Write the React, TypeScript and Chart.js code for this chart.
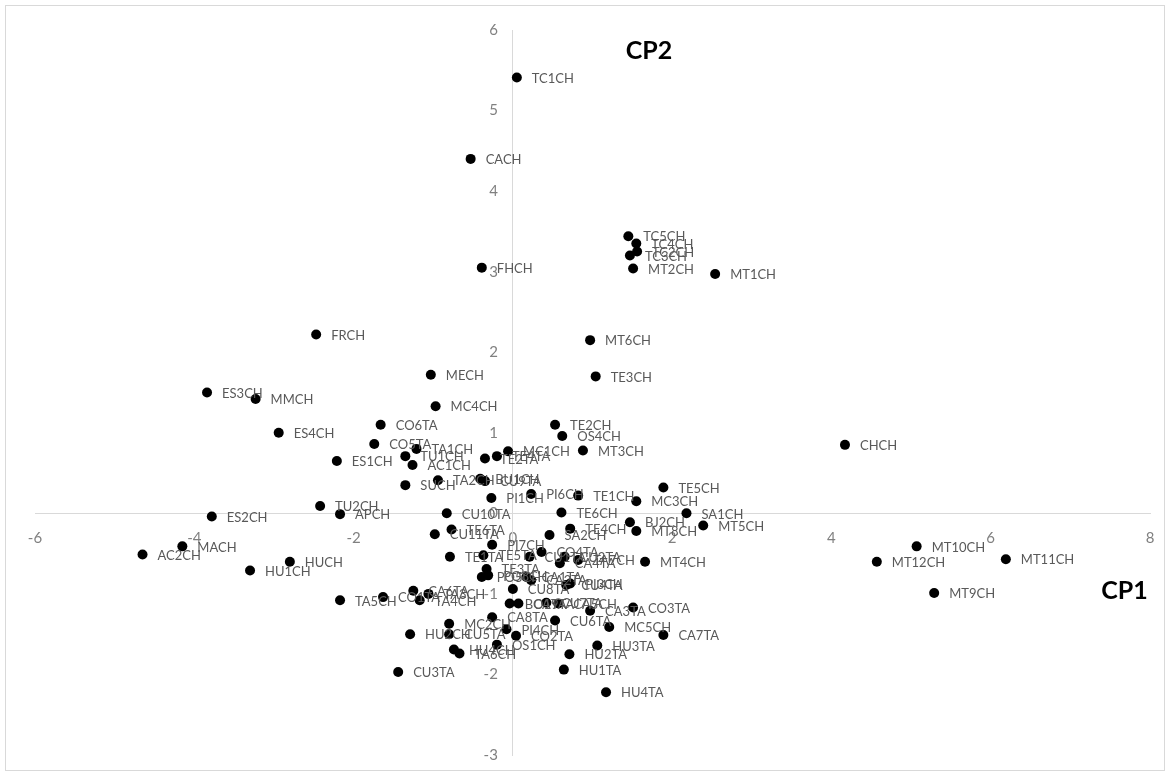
import React, { useEffect, useRef } from "react";
import { Chart, registerables } from "chart.js";

Chart.register(...registerables);

const pointLabels = [
  "TC1CH", "CACH", "TC5CH", "TC4CH", "TC2CH", "TC3CH", "MT2CH", "MT1CH", "FHCH", "FRCH",
  "MECH", "ES3CH", "MMCH", "MC4CH", "CO6TA", "ES4CH", "CO5TA", "TA1CH", "TU1CH", "ES1CH",
  "AC1CH", "SUCH", "TA2CH", "BU1CH", "CU9TA", "TE2TA", "TE4TA", "MC1CH", "PI1CH", "TU2CH",
  "APCH", "ES2CH", "MACH", "AC2CH", "HU1CH", "HUCH", "TA5CH", "CO1TA", "CA6TA", "TA3CH",
  "TA4CH", "CU10TA", "CU11TA", "TE6TA", "PI7CH", "TE1TA", "TE5TA", "TE3TA", "PO5CH", "PO8CH",
  "CU8TA", "CU1TA", "CO4TA", "CA4TA", "CU2TA", "TA7CH", "CA1TA", "CA2TA", "CU4TA", "PI3CH",
  "MT4CH", "BO1TA", "CA9TA", "CU7TA", "CA5CH", "CA3TA", "CO3TA", "CU6TA", "MC5CH", "CA7TA",
  "HU3TA", "HU2TA", "HU1TA", "HU4TA", "CA8TA", "MC2CH", "CU5TA", "HU2CH", "HU4CH", "TA6CH",
  "CU3TA", "PI4CH", "CO2TA", "OS1CH", "MT6CH", "TE3CH", "TE2CH", "OS4CH", "MT3CH", "TE5CH",
  "MC3CH", "TE1CH", "PI6CH", "TE6CH", "SA1CH", "MT5CH", "BJ2CH", "MT8CH", "TE4CH", "SA2CH",
  "CHCH", "MT10CH", "MT12CH", "MT11CH", "MT9CH",
];

const cp1Values = [
  0.05, -0.53, 1.45, 1.55, 1.56, 1.47, 1.51, 2.54, -0.39, -2.47,
  -1.03, -3.84, -3.23, -0.97, -1.66, -2.94, -1.74, -1.21, -1.35, -2.21,
  -1.26, -1.35, -0.94, -0.41, -0.35, -0.35, -0.2, -0.06, -0.27, -2.42,
  -2.17, -3.78, -4.15, -4.65, -3.3, -2.8, -2.17, -1.63, -1.25, -1.06,
  -1.17, -0.83, -0.98, -0.77, -0.26, -0.79, -0.37, -0.33, -0.39, -0.31,
  0.0, 0.21, 0.36, 0.59, 0.65, 0.82, 0.17, 0.23, 0.67, 0.72,
  1.66, -0.04, 0.07, 0.42, 0.57, 0.97, 1.51, 0.53, 1.21, 1.89,
  1.06, 0.71, 0.64, 1.17, -0.26, -0.8, -0.8, -1.29, -0.74, -0.67,
  -1.44, -0.08, 0.04, -0.2, 0.97, 1.04, 0.53, 0.62, 0.88, 1.89,
  1.55, 0.82, 0.23, 0.61, 2.18, 2.39, 1.47, 1.55, 0.72, 0.46,
  4.17, 5.07, 4.57, 6.19, 5.29,
];

const cp2Values = [
  5.41, 4.4, 3.44, 3.35, 3.25, 3.2, 3.04, 2.97, 3.05, 2.22,
  1.72, 1.5, 1.42, 1.33, 1.1, 1.0, 0.86, 0.8, 0.71, 0.65,
  0.6, 0.35, 0.41, 0.43, 0.4, 0.68, 0.71, 0.77, 0.19, 0.09,
  -0.01, -0.04, -0.41, -0.51, -0.71, -0.6, -1.08, -1.04, -0.96, -1.0,
  -1.08, 0.0, -0.26, -0.2, -0.39, -0.54, -0.52, -0.69, -0.79, -0.77,
  -0.94, -0.54, -0.48, -0.62, -0.54, -0.58, -0.79, -0.83, -0.89, -0.87,
  -0.6, -1.12, -1.12, -1.11, -1.12, -1.21, -1.17, -1.33, -1.41, -1.51,
  -1.64, -1.75, -1.94, -2.22, -1.29, -1.37, -1.5, -1.5, -1.69, -1.74,
  -1.97, -1.44, -1.52, -1.63, 2.15, 1.7, 1.1, 0.96, 0.78, 0.32,
  0.15, 0.22, 0.24, 0.01, 0.0, -0.15, -0.11, -0.22, -0.19, -0.27,
  0.85, -0.41, -0.6, -0.57, -0.99,
];

const xAxisTitle = "CP1";
const yAxisTitle = "CP2";

const labelPlugin = {
  id: "pointLabelText",
  afterDatasetsDraw(chart: any) {
    const ctx = chart.ctx;
    const meta = chart.getDatasetMeta(0);
    ctx.save();
    ctx.font = "13px Lato";
    ctx.fillStyle = "#595959";
    ctx.textBaseline = "middle";
    ctx.textAlign = "left";
    meta.data.forEach((el: any, i: number) => {
      ctx.fillText(pointLabels[i], el.x + 15, el.y + 1);
    });
    ctx.restore();
  },
};

const titlePlugin = {
  id: "axisTitles",
  afterDraw(chart: any) {
    const ctx = chart.ctx;
    const xs = chart.scales.x;
    const ys = chart.scales.y;
    ctx.save();
    ctx.font = "bold 25px Lato";
    ctx.fillStyle = "#000000";
    ctx.textBaseline = "middle";
    ctx.textAlign = "center";
    ctx.fillText(yAxisTitle, xs.getPixelForValue(1.71), ys.getPixelForValue(5.74));
    ctx.fillText(xAxisTitle, xs.getPixelForValue(7.68), ys.getPixelForValue(-0.96));
    ctx.restore();
  },
};

export default function App() {
  const ref = useRef<HTMLCanvasElement | null>(null);
  useEffect(() => {
    if (!ref.current) return;
    const chart = new Chart(ref.current, {
      type: "scatter",
      data: {
        datasets: [
          {
            label: "points",
            data: cp1Values.map((v, i) => ({ x: v, y: cp2Values[i] })),
            backgroundColor: "#000000",
            borderColor: "#000000",
            borderWidth: 0,
            pointRadius: 5,
            pointHoverRadius: 5,
          },
        ],
      },
      options: {
        animation: false,
        responsive: false,
        maintainAspectRatio: false,
        layout: { padding: { left: 29, top: 24, right: 14, bottom: 15 } },
        plugins: { legend: { display: false }, tooltip: { enabled: false } },
        scales: {
          x: {
            type: "linear",
            min: -6,
            max: 8,
            position: { y: 0 } as any,
            grid: { display: false, drawTicks: false },
            border: { display: true, color: "#d9d9d9", width: 1 },
            ticks: {
              stepSize: 2,
              padding: 16,
              color: "#808080",
              font: { family: "Lato", size: 15 },
            },
            afterFit(s: any) {
              s.height = 0;
              s.paddingLeft = 0;
              s.paddingRight = 0;
            },
          },
          y: {
            type: "linear",
            min: -3,
            max: 6,
            position: { x: 0 } as any,
            grid: { display: false, drawTicks: false },
            border: { display: true, color: "#d9d9d9", width: 1 },
            ticks: {
              stepSize: 1,
              color: "#808080",
              font: { family: "Lato", size: 15 },
              callback: (v: any) => String(v) + "\u2002\u2002",
            },
            afterFit(s: any) {
              s.width = 0;
              s.paddingTop = 0;
              s.paddingBottom = 0;
            },
          },
        },
      },
      plugins: [labelPlugin, titlePlugin],
    });
    return () => chart.destroy();
  }, []);

  return (
    <div
      style={{
        position: "absolute",
        left: 5,
        top: 5,
        width: 1158,
        height: 764,
        border: "1px solid #d9d9d9",
        background: "#ffffff",
      }}
    >
      <canvas ref={ref} width={1158} height={764} style={{ display: "block" }} />
    </div>
  );
}
